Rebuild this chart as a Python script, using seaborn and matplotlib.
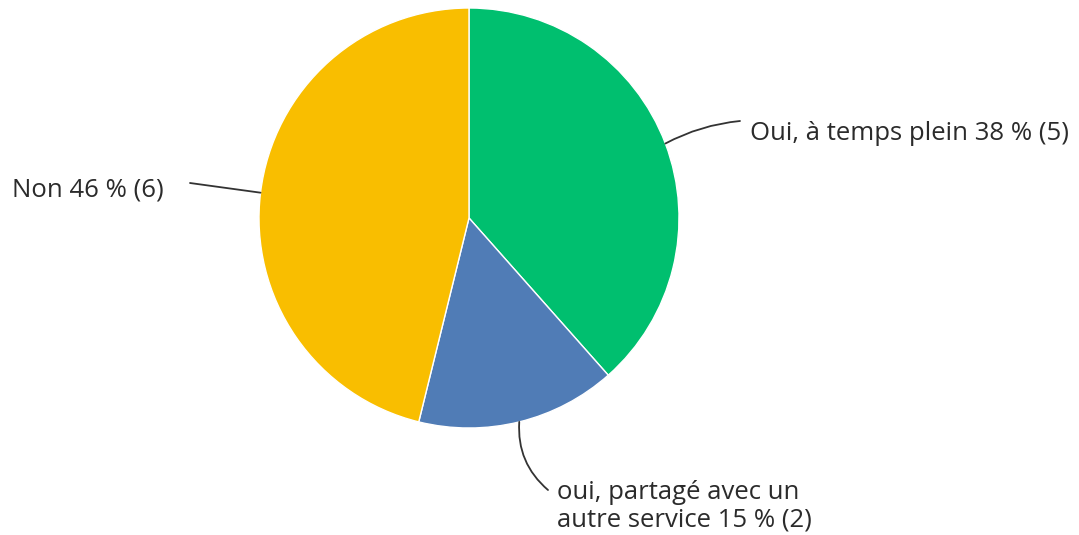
import numpy as np
import matplotlib.pyplot as plt
import seaborn as sns

# data
labels = ["Oui, à temps plein", "oui, partagé avec un\nautre service", "Non"]
counts = [5, 2, 6]
colors = ["#00bf6f", "#507cb6", "#f9be00"]

# label placement (pixel coords from top-left) and leader curvature
label_pos = [(750, 133), (557, 506), (12, 190)]
label_ha = ["left", "left", "left"]
line_end = [(740, 121), (548, 490), (190, 183)]
line_rad = [0.1, -0.25, 0.0]

W, H = 1079, 535
center = (469, H - 218)
radius = 210

sns.set_theme(style="white")
plt.rcParams["font.family"] = ["Open Sans", "DejaVu Sans"]

fig = plt.figure(figsize=(W / 100, H / 100), dpi=100)
ax = fig.add_axes([0, 0, 1, 1])

wedges, _ = ax.pie(counts, colors=sns.color_palette(colors), startangle=90,
                   counterclock=False, center=center, radius=radius,
                   wedgeprops=dict(linewidth=1, edgecolor="white"))
# pie() resets the limits, so set the pixel frame afterwards
ax.set_xlim(0, W)
ax.set_ylim(0, H)
ax.set_aspect("equal")
ax.axis("off")

total = sum(counts)
for i, w in enumerate(wedges):
    mid = np.deg2rad((w.theta1 + w.theta2) / 2)
    px = center[0] + radius * np.cos(mid)
    py = center[1] + radius * np.sin(mid)
    pct = round(100 * counts[i] / total)
    ex, ey = line_end[i]
    ax.annotate("", xy=(px, py), xytext=(ex, H - ey),
                arrowprops=dict(arrowstyle="-", color="#333333", lw=1.3,
                                shrinkA=0, shrinkB=0,
                                connectionstyle=f"arc3,rad={line_rad[i]}"))
    tx, ty = label_pos[i]
    ax.text(tx, H - ty, f"{labels[i]} {pct} % ({counts[i]})", ha=label_ha[i],
            va="center", fontsize=18.5, fontweight="medium", color="#2b2b2b",
            linespacing=1.12)

fig.savefig("out.png", dpi=100, facecolor="white")
